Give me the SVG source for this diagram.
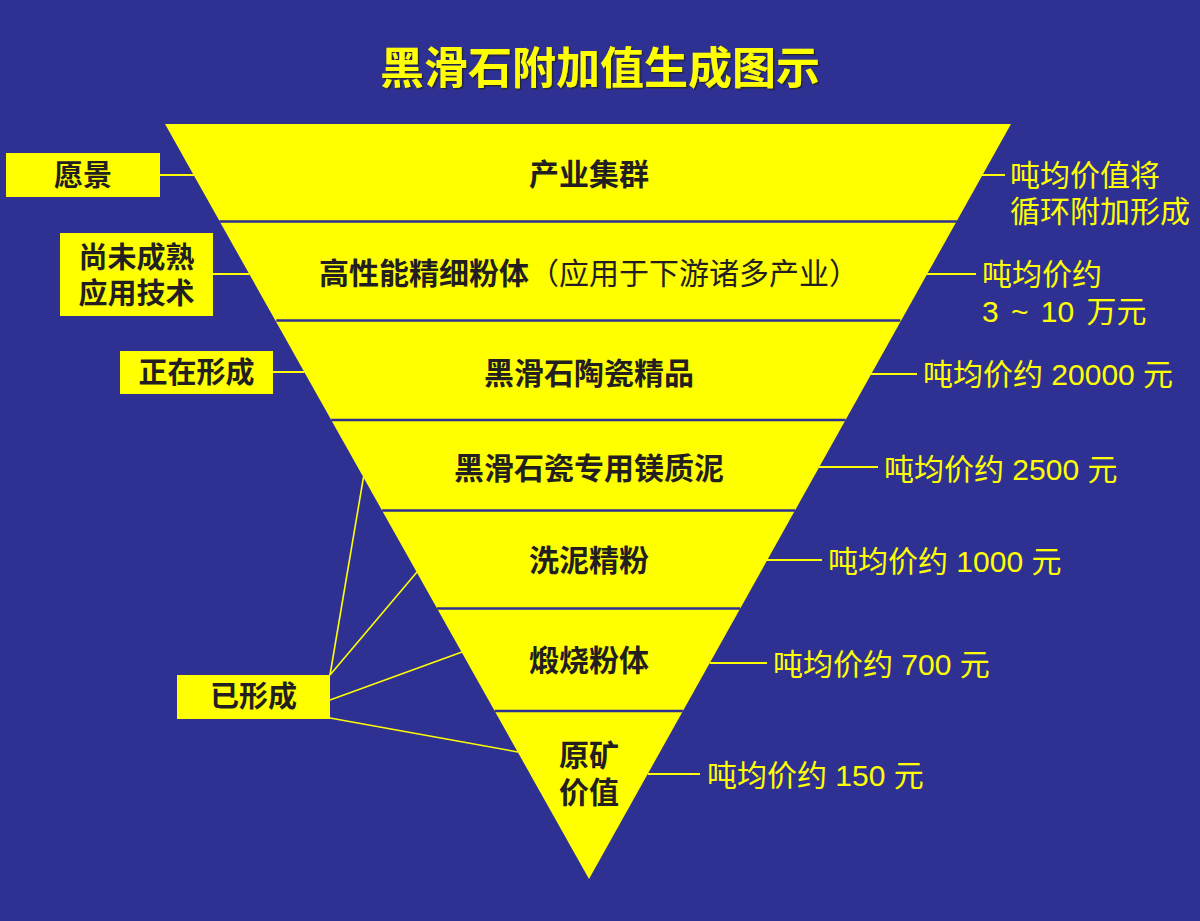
<svg xmlns="http://www.w3.org/2000/svg" width="1200" height="921" viewBox="0 0 1200 921">
<defs>
<style>
.bg{fill:#2E3192}
.tri{fill:#FFFF00}
.div{stroke:#2E3192;stroke-width:2.5}
.box{fill:#FFFF00}
.con{stroke:#FFFF00;stroke-width:2;fill:none}
.t{font-family:"Liberation Sans","Noto Sans CJK SC",sans-serif}
.title{font-size:44px;font-weight:bold;fill:#FFFF00;text-anchor:middle}
.band{font-size:30px;font-weight:bold;fill:#231F20;text-anchor:middle}
.lab{font-size:29px;font-weight:bold;fill:#231F20;text-anchor:middle}
.val{font-size:30px;fill:#FFFF00}
.reg{font-weight:normal}
</style>
<filter id="sh" x="-5%" y="-20%" width="110%" height="140%">
<feDropShadow dx="1.5" dy="1.5" stdDeviation="0.6" flood-color="#222222" flood-opacity="0.8"/>
</filter>
</defs>
<rect class="bg" x="0" y="0" width="1200" height="921"/>
<text id="title" class="t title" x="600" y="84" filter="url(#sh)">黑滑石附加值生成图示</text>

<g id="pyramid">
<polygon class="tri" points="165,124 1011,124 589,879"/>
<line class="div" x1="219.5" y1="221.5" x2="956.8" y2="221.5"/>
<line class="div" x1="276.3" y1="320.5" x2="900.3" y2="320.5"/>
<line class="div" x1="331.2" y1="420" x2="845.6" y2="420"/>
<line class="div" x1="382.1" y1="510.5" x2="795" y2="510.5"/>
<line class="div" x1="437.1" y1="608.5" x2="740.2" y2="608.5"/>
<line class="div" x1="494.7" y1="711" x2="682.9" y2="711"/>
</g>

<g id="band1"><text class="t band" x="589" y="185">产业集群</text></g>
<g id="band2"><text class="t band" x="589" y="284">高性能精细粉体<tspan class="reg">（应用于下游诸多产业）</tspan></text></g>
<g id="band3"><text class="t band" x="589" y="384">黑滑石陶瓷精品</text></g>
<g id="band4"><text class="t band" x="589" y="479">黑滑石瓷专用镁质泥</text></g>
<g id="band5"><text class="t band" x="589" y="571">洗泥精粉</text></g>
<g id="band6"><text class="t band" x="589" y="671">煅烧粉体</text></g>
<g id="band7"><text class="t band" x="589" y="766">原矿</text><text class="t band" x="589" y="803">价值</text></g>

<g id="connectors">
<line class="con" x1="160" y1="175" x2="194" y2="175"/>
<line class="con" x1="213" y1="274" x2="249.5" y2="274"/>
<line class="con" x1="273" y1="372" x2="304.5" y2="372"/>
<line class="con" x1="330" y1="675" x2="363.5" y2="477" style="stroke-width:1.6"/>
<line class="con" x1="330" y1="675" x2="417" y2="572" style="stroke-width:1.6"/>
<line class="con" x1="330" y1="700" x2="462" y2="652" style="stroke-width:1.6"/>
<line class="con" x1="330" y1="718" x2="518" y2="752" style="stroke-width:1.6"/>
<line class="con" x1="982" y1="175" x2="1005" y2="175"/>
<line class="con" x1="927" y1="274" x2="976" y2="274"/>
<line class="con" x1="871" y1="374" x2="917" y2="374"/>
<line class="con" x1="819" y1="467" x2="878" y2="467"/>
<line class="con" x1="767" y1="560" x2="822" y2="560"/>
<line class="con" x1="710" y1="663" x2="767" y2="663"/>
<line class="con" x1="648" y1="774" x2="700" y2="774"/>
</g>

<g id="lab-vision"><rect class="box" x="6" y="153" width="154" height="44"/><text class="t lab" x="83" y="186">愿景</text></g>
<g id="lab-immature"><rect class="box" x="60" y="233" width="153" height="83"/><text class="t lab" x="136.5" y="268">尚未成熟</text><text class="t lab" x="136.5" y="304">应用技术</text></g>
<g id="lab-forming"><rect class="box" x="120" y="351" width="153" height="43"/><text class="t lab" x="196.5" y="383">正在形成</text></g>
<g id="lab-formed"><rect class="box" x="177" y="675" width="153" height="44"/><text class="t lab" x="253.5" y="707">已形成</text></g>

<g id="val1"><text class="t val" x="1010" y="186">吨均价值将</text><text class="t val" x="1010" y="222">循环附加形成</text></g>
<g id="val2"><text class="t val" x="982" y="285">吨均价约</text><text class="t val" x="982" y="322" word-spacing="4">3 ~ 10 万元</text></g>
<g id="val3"><text class="t val" x="923" y="385">吨均价约 20000 元</text></g>
<g id="val4"><text class="t val" x="884" y="480">吨均价约 2500 元</text></g>
<g id="val5"><text class="t val" x="828" y="572">吨均价约 1000 元</text></g>
<g id="val6"><text class="t val" x="773" y="675">吨均价约 700 元</text></g>
<g id="val7"><text class="t val" x="707" y="786">吨均价约 150 元</text></g>
</svg>
